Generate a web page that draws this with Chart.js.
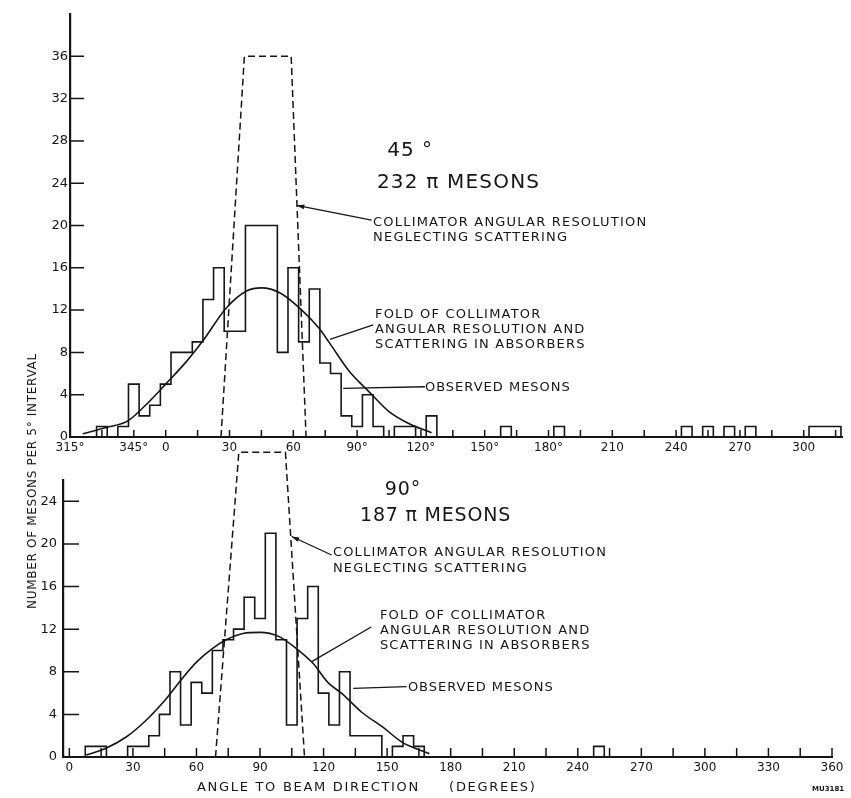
<!DOCTYPE html>
<html>
<head>
<meta charset="utf-8">
<script src="https://cdn.jsdelivr.net/npm/chart.js@4.4.1/dist/chart.umd.min.js"></script>
<style>
  html, body { margin: 0; padding: 0; background: #fff; }
  #wrap { position: relative; width: 851px; height: 798px; overflow: hidden; }
  #wrap canvas { position: absolute; left: 0; top: 0; }
  .lbl { position: absolute; font-family: 'DejaVu Sans', sans-serif; color: #161616; white-space: pre; line-height: 14px; }
  #yTitle { left: 32px; top: 481px; font-size: 12px; letter-spacing: 0.7px; transform: translate(-50%, -50%) rotate(-90deg); }
  #xTitle { left: 197px; top: 780px; font-size: 13px; letter-spacing: 1.7px; }
  #mark { left: 812px; top: 782px; font-size: 7px; font-weight: bold; }
</style>
</head>
<body>
<div id="wrap">
  <canvas id="topChart" width="851" height="798"></canvas>
  <canvas id="bottomChart" width="851" height="798"></canvas>
  <div class="lbl" id="yTitle">NUMBER OF MESONS PER 5° INTERVAL</div>
  <div class="lbl" id="xTitle">ANGLE TO BEAM DIRECTION     (DEGREES)</div>
  <div class="lbl" id="mark">MU3181</div>
</div>
<script>
// --- 45° setting: counts per 5° bin (bin centres in degrees, 315°-360° written as negatives)
const topBins = [-30, -25, -20, -15, -10, -5, 0, 5, 10, 15, 20, 25, 30, 35, 40, 45, 50, 55, 60, 65,
                 70, 75, 80, 85, 90, 95, 100, 105, 110, 115, 120, 125, 160, 185, 245, 255, 265, 275, 305, 310, 315];
const topCounts = [1, 0, 1, 5, 2, 3, 5, 8, 8, 9, 13, 16, 10, 10, 20, 20, 20, 8, 16, 9,
                   14, 7, 6, 2, 1, 4, 1, 0, 1, 1, 0, 2, 1, 1, 1, 1, 1, 1, 1, 1, 1];
// collimator resolution (dashed) and fold curve
const topResX = [26, 37, 59, 66];
const topResY = [0, 36, 36, 0];
const topFoldX = [-39, -28, -18, -9, 0, 10, 17.5, 28.5, 38, 45, 54, 64, 72, 77, 86, 96, 105, 115, 125];
const topFoldY = [0.3, 0.9, 1.5, 3.1, 5.0, 7.2, 9.1, 12.2, 13.8, 14.1, 13.6, 12.0, 10.3, 8.9, 6.3, 4.2, 2.4, 1.2, 0.4];
const topTickValues = [-45, -15, 0, 30, 60, 90, 120, 150, 180, 210, 240, 270, 300];
const topTickLabels = ['315°', '345°', '0', '30', '60', '90°', '120°', '150°', '180°', '210', '240', '270', '300'];
const topYTicks = [0, 4, 8, 12, 16, 20, 24, 28, 32, 36];

// --- 90° setting
const bottomBins = [10, 15, 20, 25, 30, 35, 40, 45, 50, 55, 60, 65, 70, 75, 80, 85, 90, 95, 100, 105,
                    110, 115, 120, 125, 130, 135, 140, 145, 150, 155, 160, 165, 250];
const bottomCounts = [1, 1, 0, 0, 1, 1, 2, 4, 8, 3, 7, 6, 10, 11, 12, 15, 13, 21, 11, 3,
                      13, 16, 6, 3, 8, 2, 2, 2, 0, 1, 2, 1, 1];
const bottomResX = [69, 80, 102, 111];
const bottomResY = [0, 28.6, 28.6, 0];
const bottomFoldX = [8, 17, 27, 36, 45, 53, 60, 67, 74, 82, 90, 99, 107, 115, 122, 129, 138, 148, 157, 170];
const bottomFoldY = [0.2, 0.8, 1.9, 3.4, 5.3, 7.3, 8.9, 10.1, 11.0, 11.6, 11.7, 11.3, 10.2, 8.8, 7.0, 5.9, 4.2, 2.8, 1.4, 0.3];
const bottomTickValues = [0, 30, 60, 90, 120, 150, 180, 210, 240, 270, 300, 330, 360];
const bottomTickLabels = ['0', '30', '60', '90', '120', '150', '180', '210', '240', '270', '300', '330', '360'];
const bottomYTicks = [0, 4, 8, 12, 16, 20, 24];

const INK = '#161616';
const FONT = "'DejaVu Sans', sans-serif";
const BIN = 5;

// outline of a histogram: up and down at the edges of each run of bins
function histSteps(bins, counts) {
  const pts = [];
  bins.forEach((c, i) => {
    const l = c - BIN / 2, r = c + BIN / 2;
    if (i === 0 || bins[i - 1] !== c - BIN) pts.push({ x: l, y: 0 });
    pts.push({ x: l, y: counts[i] }, { x: r, y: counts[i] });
    if (i === bins.length - 1 || bins[i + 1] !== c + BIN) pts.push({ x: r, y: 0 });
  });
  return pts;
}
const zip = (xs, ys) => xs.map((x, i) => ({ x, y: ys[i] }));

// tick marks drawn inside the axes, like the original
const inwardTicks = {
  id: 'inwardTicks',
  afterDatasetsDraw(chart, args, opts) {
    const { ctx, chartArea, scales: { x, y } } = chart;
    ctx.save();
    ctx.strokeStyle = INK;
    ctx.lineWidth = 1.5;
    ctx.beginPath();
    for (let v = opts.xFrom; v <= opts.xTo; v += 15) {
      const px = x.getPixelForValue(v);
      ctx.moveTo(px, chartArea.bottom);
      ctx.lineTo(px, chartArea.bottom - opts.xLen);
    }
    y.ticks.forEach(t => {
      const py = y.getPixelForValue(t.value);
      ctx.moveTo(chartArea.left, py);
      ctx.lineTo(chartArea.left + opts.yLen, py);
    });
    ctx.stroke();
    ctx.restore();
  }
};

// labels and pointer lines, placed in data coordinates
const notes = {
  id: 'notes',
  afterDatasetsDraw(chart, args, opts) {
    const { ctx, scales: { x, y } } = chart;
    ctx.save();
    ctx.strokeStyle = INK;
    ctx.fillStyle = INK;
    ctx.lineWidth = 1.3;
    opts.pointers.forEach(p => {
      const x0 = x.getPixelForValue(p.from[0]), y0 = y.getPixelForValue(p.from[1]);
      const x1 = x.getPixelForValue(p.to[0]), y1 = y.getPixelForValue(p.to[1]);
      ctx.beginPath();
      ctx.moveTo(x0, y0);
      ctx.lineTo(x1, y1);
      ctx.stroke();
      if (p.arrow) {
        const a = Math.atan2(y1 - y0, x1 - x0);
        ctx.beginPath();
        ctx.moveTo(x0, y0);
        ctx.lineTo(x0 + 8 * Math.cos(a - 0.3), y0 + 8 * Math.sin(a - 0.3));
        ctx.lineTo(x0 + 8 * Math.cos(a + 0.3), y0 + 8 * Math.sin(a + 0.3));
        ctx.closePath();
        ctx.fill();
      }
    });
    ctx.textBaseline = 'middle';
    opts.texts.forEach(t => {
      ctx.font = t.size + 'px ' + FONT;
      ctx.letterSpacing = (t.spacing || 0) + 'px';
      ctx.textAlign = t.align || 'left';
      ctx.fillText(t.text, x.getPixelForValue(t.x), y.getPixelForValue(t.y));
    });
    ctx.restore();
  }
};

function makePanel(id, o) {
  return new Chart(document.getElementById(id), {
    type: 'scatter',
    data: {
      datasets: [
        { data: histSteps(o.bins, o.counts), showLine: true, borderColor: INK, borderWidth: 1.6,
          pointRadius: 0, tension: 0, clip: false },
        { data: zip(o.resX, o.resY), showLine: true, borderColor: INK, borderWidth: 1.5,
          borderDash: [7, 4], pointRadius: 0, tension: 0, clip: false },
        { data: zip(o.foldX, o.foldY), showLine: true, borderColor: INK, borderWidth: 1.6,
          pointRadius: 0, tension: 0.4, cubicInterpolationMode: 'monotone', clip: false }
      ]
    },
    options: {
      responsive: false,
      animation: false,
      devicePixelRatio: 1,
      layout: { padding: o.padding },
      plugins: {
        legend: { display: false },
        tooltip: { enabled: false },
        inwardTicks: o.ticks,
        notes: o.notes
      },
      scales: {
        x: {
          type: 'linear', min: o.xMin, max: o.xMax,
          grid: { display: false, drawTicks: false, tickLength: 0 },
          border: { display: true, color: INK, width: 2 },
          afterBuildTicks: s => { s.ticks = o.xTicks.map(v => ({ value: v })); },
          afterFit: s => { s.height = 20; s.paddingLeft = 0; s.paddingRight = 0; },
          ticks: {
            autoSkip: false, maxRotation: 0, padding: 4, color: INK,
            font: { family: FONT, size: 12 },
            callback: v => o.xLabels[o.xTicks.indexOf(v)]
          }
        },
        y: {
          type: 'linear', min: 0, max: o.yMax,
          grid: { display: false, drawTicks: false, tickLength: 0 },
          border: { display: true, color: INK, width: 2.2 },
          afterBuildTicks: s => { s.ticks = o.yTicks.map(v => ({ value: v })); },
          afterFit: s => { s.width = o.yWidth; s.paddingTop = 0; s.paddingBottom = 0; },
          ticks: {
            padding: o.yPad, color: INK,
            font: { family: FONT, size: 13 }
          }
        }
      }
    },
    plugins: [inwardTicks, notes]
  });
}

makePanel('topChart', {
  bins: topBins, counts: topCounts, resX: topResX, resY: topResY, foldX: topFoldX, foldY: topFoldY,
  xMin: -45, xMax: 318, yMax: 40, yWidth: 70, yPad: 2,
  xTicks: topTickValues, xLabels: topTickLabels, yTicks: topYTicks,
  padding: { left: 0, right: 9, top: 14, bottom: 341 },
  ticks: { xFrom: -45, xTo: 315, xLen: 7, yLen: 14 },
  notes: {
    pointers: [
      { from: [61.6, 21.9], to: [96.8, 20.5], arrow: true },
      { from: [77.2, 9.24], to: [97.6, 10.6] },
      { from: [83.5, 4.6], to: [121.9, 4.75] }
    ],
    texts: [
      { text: '45 °', x: 114.9, y: 27.1, size: 20, align: 'center', spacing: 1 },
      { text: '232 π MESONS', x: 99.3, y: 24.0, size: 20, spacing: 1.2 },
      { text: 'COLLIMATOR ANGULAR RESOLUTION', x: 97.5, y: 20.3, size: 13, spacing: 1.2 },
      { text: 'NEGLECTING SCATTERING', x: 97.5, y: 18.9, size: 13, spacing: 1.2 },
      { text: 'FOLD OF COLLIMATOR', x: 98.4, y: 11.6, size: 13, spacing: 1.2 },
      { text: 'ANGULAR RESOLUTION AND', x: 98.4, y: 10.2, size: 13, spacing: 1.2 },
      { text: 'SCATTERING IN ABSORBERS', x: 98.4, y: 8.7, size: 13, spacing: 1.2 },
      { text: 'OBSERVED MESONS', x: 121.9, y: 4.7, size: 13, spacing: 1 }
    ]
  }
});

makePanel('bottomChart', {
  bins: bottomBins, counts: bottomCounts, resX: bottomResX, resY: bottomResY, foldX: bottomFoldX, foldY: bottomFoldY,
  xMin: -3, xMax: 360, yMax: 26, yWidth: 63, yPad: 6,
  xTicks: bottomTickValues, xLabels: bottomTickLabels, yTicks: bottomYTicks,
  padding: { left: 0, right: 19, top: 480, bottom: 21 },
  ticks: { xFrom: 0, xTo: 360, xLen: 9, yLen: 16 },
  notes: {
    pointers: [
      { from: [104.9, 20.7], to: [123.8, 18.96], arrow: true },
      { from: [114.4, 8.95], to: [142.5, 12.2] },
      { from: [134, 6.45], to: [159.2, 6.6] }
    ],
    texts: [
      { text: '90°', x: 157.5, y: 25.1, size: 19, align: 'center', spacing: 1 },
      { text: '187 π MESONS', x: 137.2, y: 22.6, size: 19, spacing: 0.8 },
      { text: 'COLLIMATOR ANGULAR RESOLUTION', x: 124.4, y: 19.15, size: 13, spacing: 1.2 },
      { text: 'NEGLECTING SCATTERING', x: 124.4, y: 17.7, size: 13, spacing: 1.2 },
      { text: 'FOLD OF COLLIMATOR', x: 146.6, y: 13.3, size: 13, spacing: 1.2 },
      { text: 'ANGULAR RESOLUTION AND', x: 146.6, y: 11.9, size: 13, spacing: 1.2 },
      { text: 'SCATTERING IN ABSORBERS', x: 146.6, y: 10.5, size: 13, spacing: 1.2 },
      { text: 'OBSERVED MESONS', x: 159.8, y: 6.5, size: 13, spacing: 1 }
    ]
  }
});
</script>
</body>
</html>
